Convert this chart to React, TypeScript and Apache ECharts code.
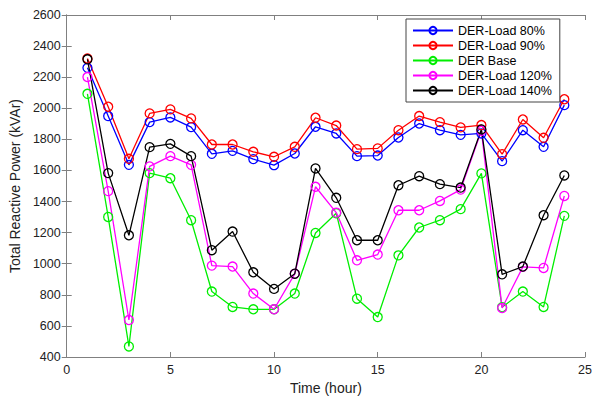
import React, { useEffect, useRef } from "react";
import * as echarts from "echarts";

const hours = [1, 2, 3, 4, 5, 6, 7, 8, 9, 10, 11, 12, 13, 14, 15, 16, 17, 18, 19, 20, 21, 22, 23, 24];
const load80 = [2260, 1950, 1636, 1911, 1941, 1879, 1707, 1726, 1673, 1634, 1709, 1881, 1838, 1692, 1696, 1812, 1902, 1859, 1829, 1838, 1660, 1859, 1752, 2020];
const load90 = [2320, 2010, 1675, 1967, 1993, 1935, 1767, 1767, 1720, 1688, 1752, 1939, 1889, 1737, 1742, 1859, 1950, 1911, 1877, 1892, 1705, 1928, 1810, 2058];
const base = [2093, 1301, 468, 1583, 1550, 1280, 821, 722, 707, 707, 808, 1198, 1325, 775, 657, 1054, 1233, 1280, 1351, 1581, 720, 821, 722, 1308];
const load120 = [2201, 1467, 638, 1626, 1692, 1636, 988, 982, 808, 707, 935, 1495, 1329, 1022, 1059, 1344, 1344, 1404, 1477, 1855, 715, 980, 973, 1436];
const load140 = [2315, 1583, 1183, 1750, 1771, 1692, 1087, 1207, 945, 838, 936, 1613, 1424, 1151, 1151, 1505, 1563, 1512, 1490, 1864, 932, 982, 1312, 1568];
const seriesNames = ["DER-Load 80%", "DER-Load 90%", "DER Base", "DER-Load 120%", "DER-Load 140%"];
const seriesColors = ["#0000ff", "#ff0000", "#00ee00", "#ff00ff", "#000000"];
const seriesValues = [load80, load90, base, load120, load140];

export default function App() {
  const ref = useRef<HTMLDivElement>(null);
  useEffect(() => {
    if (!ref.current) return;
    const chart = echarts.init(ref.current, null, { renderer: "svg" });
    const font = "Liberation Sans, Arial, sans-serif";
    const axisLine = { show: true, lineStyle: { color: "#808080", width: 1 } };
    const axisTick = { show: true, inside: true, length: 5, lineStyle: { color: "#808080" } };
    chart.setOption({
      animation: false,
      backgroundColor: "#ffffff",
      grid: { left: 62, right: 6, top: 15, bottom: 44, show: false },
      legend: {
        data: seriesNames,
        orient: "vertical",
        left: 406,
        top: 19,
        itemWidth: 40,
        itemHeight: 9,
        itemGap: 2,
        padding: [5, 8, 5, 6],
        borderColor: "#444",
        borderWidth: 1,
        backgroundColor: "#ffffff",
        textStyle: { fontSize: 12.5, fontFamily: font, color: "#000" },
      },
      xAxis: [
        {
          type: "value",
          min: 0,
          max: 25,
          interval: 5,
          name: "Time (hour)",
          nameLocation: "middle",
          nameGap: 22,
          nameTextStyle: { fontSize: 14, fontFamily: font, color: "#222" },
          axisLine,
          axisTick,
          splitLine: { show: false },
          axisLabel: { fontSize: 12.5, fontFamily: font, color: "#222", margin: 6, formatter: (v: number) => String(v) },
        },
        {
          type: "value",
          position: "top",
          min: 0,
          max: 25,
          interval: 5,
          axisLine,
          axisTick,
          splitLine: { show: false },
          axisLabel: { show: false },
        },
      ],
      yAxis: [
        {
          type: "value",
          min: 400,
          max: 2600,
          interval: 200,
          name: "Total Reactive Power (kVAr)",
          nameLocation: "middle",
          nameGap: 42,
          nameTextStyle: { fontSize: 14, fontFamily: font, color: "#222" },
          axisLine,
          axisTick,
          splitLine: { show: false },
          axisLabel: { fontSize: 12.5, fontFamily: font, color: "#222", margin: 6, formatter: (v: number) => String(v) },
        },
        {
          type: "value",
          position: "right",
          min: 400,
          max: 2600,
          interval: 200,
          axisLine,
          axisTick,
          splitLine: { show: false },
          axisLabel: { show: false },
        },
      ],
      series: seriesNames.map((name, i) => ({
        name,
        type: "line",
        data: hours.map((h, j) => [h, seriesValues[i][j]]),
        symbol: "circle",
        symbolSize: 9,
        color: seriesColors[i],
        lineStyle: { width: 1.3, color: seriesColors[i] },
        itemStyle: { color: "rgba(255,255,255,0)", borderColor: seriesColors[i], borderWidth: 1.3 },
      })),
    });
    return () => chart.dispose();
  }, []);
  return <div ref={ref} style={{ width: 595, height: 401, position: "absolute", left: 0, top: 0 }} />;
}
